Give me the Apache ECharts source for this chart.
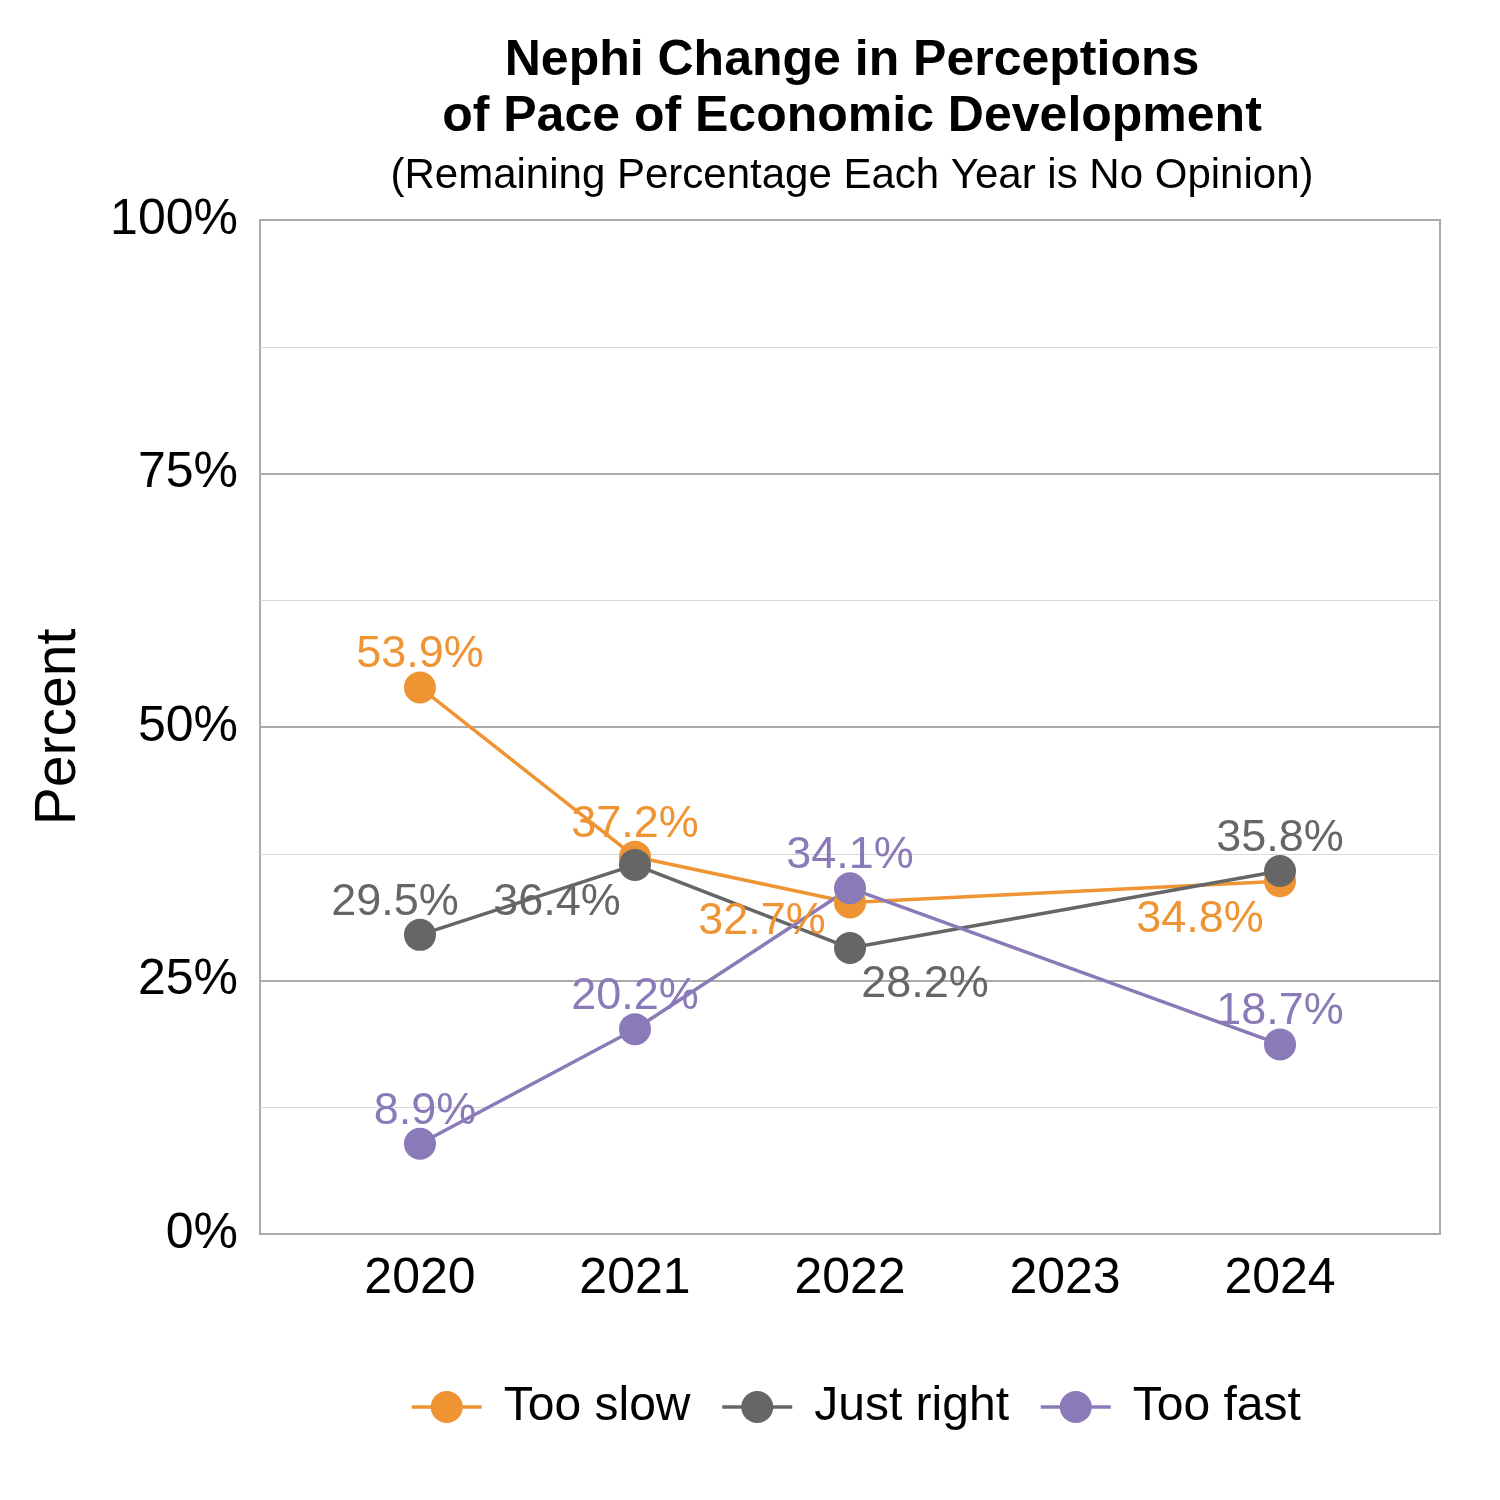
<!DOCTYPE html>
<html>
<head>
<meta charset="utf-8">
<script src="https://cdn.jsdelivr.net/npm/echarts@6/dist/echarts.min.js"></script>
<style>
  html, body { margin: 0; padding: 0; background: #fff; }
  #chart { width: 1500px; height: 1500px; }
</style>
</head>
<body>
<div id="chart"></div>
<script>
// survey years (2023 had no survey)
const years = [2020, 2021, 2022, 2024];
const tooSlow = [53.9, 37.2, 32.7, 34.8];
const justRight = [29.5, 36.4, 28.2, 35.8];
const tooFast = [8.9, 20.2, 34.1, 18.7];
const seriesNames = ['Too slow', 'Just right', 'Too fast'];
const yTicks = [0, 25, 50, 75, 100];

const colors = ['#EF9433', '#666666', '#8A7BB8'];
const font = 'Liberation Sans, Arial, sans-serif';

// label nudges per point, so overlapping labels sit like the original
const labelOffsets = {
  'Too slow': [[0, 0], [0, 0], [-88, 52], [-80, 71]],
  'Just right': [[-25, 0], [-78, 70], [75, 69], [0, 0]],
  'Too fast': [[5, 0], [0, 0], [0, 0], [0, 0]]
};

function makeSeries(name, values, color) {
  return {
    name: name,
    type: 'line',
    symbol: 'circle',
    symbolSize: 32,
    lineStyle: { color: color, width: 3.5 },
    itemStyle: { color: color },
    label: {
      show: true,
      position: 'top',
      distance: -6,
      color: color,
      fontSize: 45,
      fontFamily: font,
      formatter: function (p) { return p.value[1].toFixed(1) + '%'; }
    },
    data: years.map(function (yr, i) {
      return {
        value: [yr, values[i]],
        label: { offset: labelOffsets[name][i] }
      };
    })
  };
}

const chart = echarts.init(document.getElementById('chart'), null, { renderer: 'canvas' });

chart.setOption({
  animation: false,
  color: colors,
  textStyle: { fontFamily: font },
  title: {
    text: 'Nephi Change in Perceptions\nof Pace of Economic Development',
    subtext: '(Remaining Percentage Each Year is No Opinion)',
    left: 847,
    textAlign: 'center',
    top: 28,
    itemGap: 10,
    textStyle: {
      fontSize: 50,
      fontWeight: 'bold',
      color: '#000',
      lineHeight: 56,
      fontFamily: font
    },
    subtextStyle: {
      fontSize: 42,
      color: '#000',
      fontFamily: font
    }
  },
  legend: {
    bottom: 64,
    left: 405,
    itemWidth: 70,
    itemHeight: 40,
    itemGap: 30,
    lineStyle: { width: 3.5 },
    textStyle: { fontSize: 48, color: '#000', padding: [0, 0, 0, 17] },
    data: seriesNames
  },
  grid: {
    left: 260,
    right: 60,
    top: 220,
    bottom: 266,
    show: true,
    borderColor: '#aaaaaa',
    borderWidth: 2,
    containLabel: false
  },
  xAxis: {
    type: 'value',
    min: 2019.256,
    max: 2024.744,
    minInterval: 1,
    maxInterval: 1,
    axisLine: { show: false },
    axisTick: { show: false },
    splitLine: { show: false },
    axisLabel: {
      fontSize: 50,
      color: '#000',
      margin: 20,
      showMinLabel: false,
      showMaxLabel: false,
      formatter: function (v) { return String(Math.round(v)); }
    }
  },
  yAxis: {
    type: 'value',
    min: yTicks[0],
    max: yTicks[yTicks.length - 1],
    interval: 25,
    name: 'Percent',
    nameLocation: 'middle',
    nameGap: 172,
    nameTextStyle: { fontSize: 57, color: '#000' },
    axisLine: { show: false },
    axisTick: { show: false },
    axisLabel: {
      fontSize: 50,
      color: '#000',
      margin: 22,
      formatter: '{value}%'
    },
    splitLine: { lineStyle: { color: '#aaaaaa', width: 2 } },
    minorTick: { show: false, splitNumber: 2 },
    minorSplitLine: { show: true, lineStyle: { color: '#d9d9d9', width: 1 } }
  },
  series: [
    makeSeries(seriesNames[0], tooSlow, colors[0]),
    makeSeries(seriesNames[1], justRight, colors[1]),
    makeSeries(seriesNames[2], tooFast, colors[2])
  ]
});
</script>
</body>
</html>
